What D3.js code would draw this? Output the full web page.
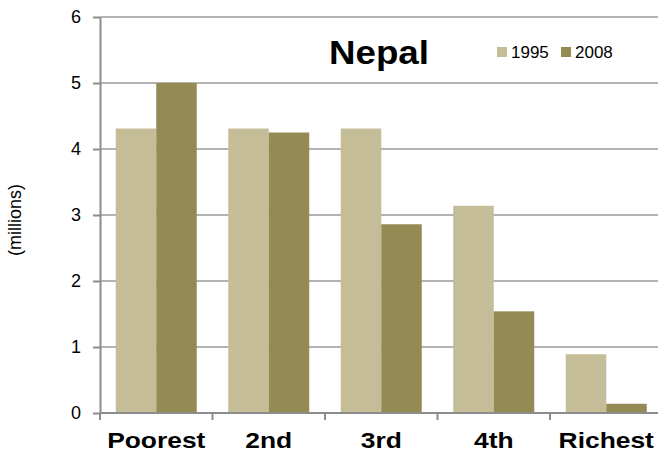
<!DOCTYPE html>
<html>
<head>
<meta charset="utf-8">
<script src="https://cdn.jsdelivr.net/npm/d3@7"></script>
<style>
  body { margin: 0; background: #fff; }
  text { font-family: "Liberation Sans", Arial, sans-serif; }
</style>
</head>
<body>
<div id="chart"></div>
<script>
// Data
const categories = ["Poorest", "2nd", "3rd", "4th", "Richest"];
const seriesNames = ["1995", "2008"];
const values1995 = [4.31, 4.31, 4.31, 3.14, 0.89];
const values2008 = [5.0, 4.25, 2.86, 1.54, 0.14];
const yTicks = [0, 1, 2, 3, 4, 5, 6];
const colors = ["#c4bd97", "#948a54"];

const width = 658, height = 455;
const margin = { top: 17, right: -4.5, bottom: 42, left: 100 };

const svg = d3.select("#chart")
    .append("svg")
    .attr("width", width)
    .attr("height", height);

const rows = categories.map((c, i) => ({ cat: c, vals: [values1995[i], values2008[i]] }));

// Scales
const x0 = d3.scaleBand()
    .domain(categories)
    .range([margin.left, width - margin.right])
    .paddingInner(0.28)
    .paddingOuter(0.14);

const x1 = d3.scaleBand()
    .domain(seriesNames)
    .range([0, x0.bandwidth()]);

const y = d3.scaleLinear()
    .domain([0, 6])
    .range([height - margin.bottom, margin.top]);

// Gridlines
svg.append("g")
    .selectAll("line")
    .data(yTicks.slice(1))
    .join("line")
    .attr("x1", margin.left)
    .attr("x2", width)
    .attr("y1", d => y(d))
    .attr("y2", d => y(d))
    .attr("stroke", "#9a9a9a")
    .attr("stroke-width", 1.5);

// Bars
svg.append("g")
    .selectAll("g")
    .data(rows)
    .join("g")
    .attr("transform", d => `translate(${x0(d.cat)},0)`)
    .selectAll("rect")
    .data(d => d.vals.map((v, i) => ({ key: seriesNames[i], v, i })))
    .join("rect")
    .attr("x", d => x1(d.key))
    .attr("y", d => y(d.v))
    .attr("width", x1.bandwidth())
    .attr("height", d => y(0) - y(d.v))
    .attr("fill", d => colors[d.i]);

// Y axis
const yAxis = svg.append("g")
    .attr("transform", `translate(${margin.left},0)`)
    .call(d3.axisLeft(y).tickValues(yTicks).tickFormat(d3.format("d"))
        .tickSize(7).tickPadding(12).tickSizeOuter(0));
yAxis.select(".domain").attr("stroke", "#8c8c8c").attr("stroke-width", 2);
yAxis.selectAll(".tick line").attr("stroke", "#8c8c8c").attr("stroke-width", 2);
yAxis.selectAll(".tick text")
    .attr("fill", "#000")
    .style("font-size", "18px");

// X axis
const step = x0.step();
const xAxis = svg.append("g");
xAxis.append("line")
    .attr("x1", margin.left)
    .attr("x2", width)
    .attr("y1", y(0))
    .attr("y2", y(0))
    .attr("stroke", "#8c8c8c")
    .attr("stroke-width", 2);
xAxis.selectAll("line.tk")
    .data(categories)
    .join("line")
    .attr("class", "tk")
    .attr("x1", (c, i) => margin.left + i * step)
    .attr("x2", (c, i) => margin.left + i * step)
    .attr("y1", y(0))
    .attr("y2", y(0) + 7)
    .attr("stroke", "#8c8c8c")
    .attr("stroke-width", 2);
xAxis.selectAll("text")
    .data(categories)
    .join("text")
    .attr("transform", c => `translate(${x0(c) + x0.bandwidth() / 2},448) scale(1.2,1)`)
    .attr("text-anchor", "middle")
    .style("font-size", "22px")
    .style("font-weight", "bold")
    .text(c => c);

// Y axis title
svg.append("text")
    .attr("transform", "translate(21,220) rotate(-90)")
    .attr("text-anchor", "middle")
    .style("font-size", "18px")
    .text("(millions)");

// Chart title
svg.append("text")
    .attr("transform", "translate(379,64) scale(1.08,1)")
    .attr("text-anchor", "middle")
    .style("font-size", "34px")
    .style("font-weight", "bold")
    .text("Nepal");

// Legend
const legend = svg.append("g")
    .selectAll("g")
    .data(seriesNames)
    .join("g")
    .attr("transform", (d, i) => `translate(${497 + i * 64},47)`);
legend.append("rect")
    .attr("width", 10)
    .attr("height", 10)
    .attr("fill", (d, i) => colors[i]);
legend.append("text")
    .attr("x", 14)
    .attr("y", 11)
    .style("font-size", "17px")
    .text(d => d);
</script>
</body>
</html>
